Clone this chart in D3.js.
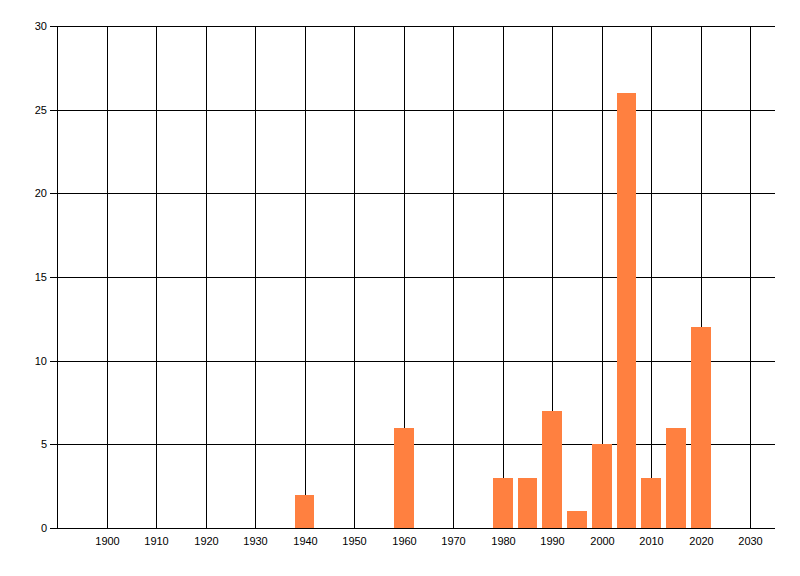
<!DOCTYPE html>
<html>
<head>
<meta charset="utf-8">
<script src="https://cdn.jsdelivr.net/npm/d3@7"></script>
<style>
body { margin: 0; background: #fff; }
svg { display: block; }
.axis text { font-family: "Liberation Sans", Arial, sans-serif; font-size: 11px; fill: #000; }
.axis line { stroke: #000; stroke-width: 1; }
</style>
</head>
<body>
<svg id="chart" width="800" height="576"></svg>
<script>
let years = [1940, 1960, 1980, 1985, 1990, 1995, 2000, 2005, 2010, 2015, 2020]
let counts = [2, 6, 3, 3, 7, 1, 5, 26, 3, 6, 12]
let xTicks = [1900, 1910, 1920, 1930, 1940, 1950, 1960, 1970, 1980, 1990, 2000, 2010, 2020, 2030]
let yTicks = [0, 5, 10, 15, 20, 25, 30]

let pad_l = 57, pad_r = 775, pad_t = 26, pad_b = 528
let barYears = 4

let chart = d3.select('#chart')

let xScale = d3.scaleLinear()
    .domain([1890, 2035])
    .rangeRound([pad_l, pad_r])

let yScale = d3.scaleLinear()
    .domain([0, 30])
    .rangeRound([pad_b, pad_t])

// vertical grid + x labels
let xAxisGen = d3.axisBottom(xScale)
    .tickValues(xTicks)
    .tickFormat(d3.format('d'))
    .tickSizeInner(-(pad_b - pad_t))
    .tickSizeOuter(0)
    .tickPadding(9)

chart.append('g')
    .attr('class', 'axis')
    .attr('transform', `translate(0, ${pad_b})`)
    .call(xAxisGen)
    .call(g => g.select('.domain').remove())

// horizontal grid + y labels (grid starts 7px left of the axis)
let yAxisGen = d3.axisLeft(yScale)
    .tickValues(yTicks)
    .tickSizeInner(-(pad_r - pad_l + 7))
    .tickSizeOuter(0)
    .tickPadding(3)

chart.append('g')
    .attr('class', 'axis')
    .attr('transform', `translate(${pad_l - 7}, 0)`)
    .call(yAxisGen)
    .call(g => g.select('.domain').remove())

// y axis line
chart.append('line')
    .attr('x1', pad_l + 0.5).attr('x2', pad_l + 0.5)
    .attr('y1', yScale(30) + 0.5).attr('y2', yScale(0) + 0.5)
    .attr('stroke', '#000')

let data = years.map((y, i) => ({year: y, value: counts[i]}))

chart.append('g')
    .selectAll('rect')
    .data(data)
    .join('rect')
    .attr('x', d => xScale(d.year - barYears / 2))
    .attr('width', d => xScale(d.year + barYears / 2) - xScale(d.year - barYears / 2))
    .attr('y', d => yScale(d.value))
    .attr('height', d => yScale(0) - yScale(d.value))
    .attr('fill', '#ff8040')
</script>
</body>
</html>
